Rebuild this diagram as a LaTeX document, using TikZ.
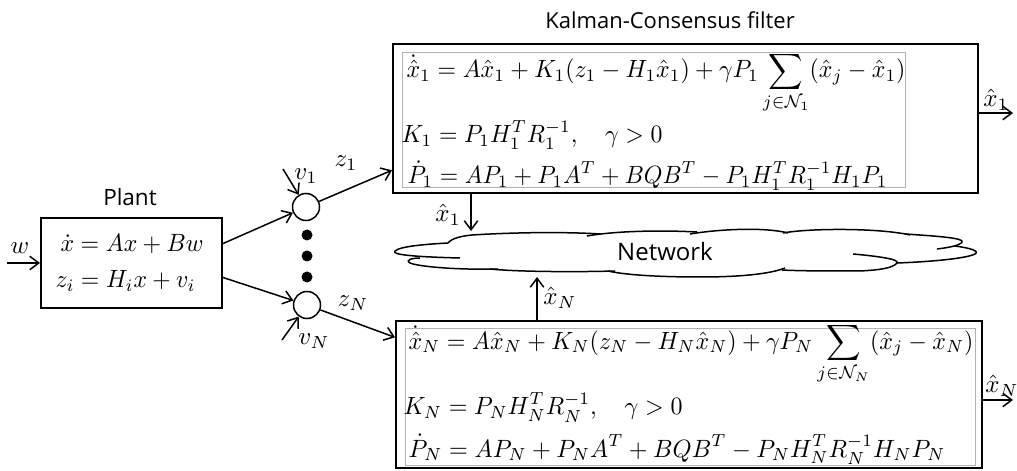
\documentclass[tikz,border=0pt]{standalone}
\usepackage{graphicx}
\usepackage{fontspec}
\newfontfamily\labfont{Open Sans}
\usetikzlibrary{fit,arrows.meta}
\newcommand\eqw[2]{\resizebox{#1}{\height}{$\displaystyle #2$}}
\begin{document}
\begin{tikzpicture}[x=0.4pt,y=-0.4pt,
  >={Straight Barb[length=3.6pt,width=5.4pt]},
  box/.style={draw,line width=0.8pt,inner sep=0pt},
  inbox/.style={draw=black!30,line width=0.4pt,inner sep=0pt},
  conn/.style={->,line width=0.6pt},
  lab/.style={font=\labfont\fontsize{9}{11}\selectfont,inner sep=0pt},
  eq/.style={inner sep=0pt,anchor=base west},
  mlab/.style={inner sep=0pt},
  sumc/.style={circle,draw,line width=0.6pt,minimum size=10.8pt,inner sep=0pt},
  dotn/.style={circle,fill=black,minimum size=4.4pt,inner sep=0pt},
  cloudline/.style={line width=0.6pt}]
\useasboundingbox (0,0) rectangle (1017,471);

% plant
\node[box,fit={(41,218)(222,308)}] (plant) {};
\node[lab] (plantlbl) at (130,197) {Plant};
\node[eq] (pe1) at (60,252) {\eqw{57.2pt}{\dot x = Ax + Bw}};
\node[eq] (pe2) at (55,288) {\eqw{56pt}{z_i = H_i x + v_i}};
\coordinate (win) at (7,263);
\draw[conn] (win) -- (plant.west);
\node[mlab] (wl) at (20,248) {$w$};

% sensors
\node[sumc] (c1) at (306,207) {};
\node[sumc] (cN) at (307,305) {};
\node[dotn] (d1) at (307,235) {};
\node[dotn] (d2) at (307,256) {};
\node[dotn] (d3) at (307,277) {};
\draw[conn] (plant.12) -- (c1);
\draw[conn] (plant.-9) -- (cN);
\coordinate (v1s) at (283,169);
\coordinate (vNs) at (282,340);
\draw[conn] (v1s) -- (c1);
\draw[conn] (vNs) -- (cN);
\node[mlab] (v1l) at (306,176) {$v_1$};
\node[mlab] (vNl) at (314,341) {$v_N$};

% filter boxes
\node[lab,font=\labfont\fontsize{8.8}{11}\selectfont] (kcf) at (670,20) {Kalman-Consensus filter};
\node[box,fit={(393,44)(978,193)}] (top) {};
\node[inbox,fit={(402,53)(905,188)}] (tin) {};
\node[box,fit={(396,321)(982,468)}] (bot) {};
\node[inbox,fit={(405,329)(975,465)}] (bin) {};

\node[eq] (t1) at (406,78) {\eqw{199.6pt}{\dot{\hat x}_1 = A\hat x_1 + K_1(z_1 - H_1\hat x_1) + \gamma P_1 \sum_{j\in\mathcal N_1}(\hat x_j - \hat x_1)}};
\node[eq] (t2) at (401,143) {\eqw{104.4pt}{K_1 = P_1H_1^TR_1^{-1}, \quad \gamma > 0}};
\node[eq] (t3) at (407,184) {\eqw{192pt}{\dot P_1 = AP_1 + P_1A^T + BQB^T - P_1H_1^TR_1^{-1}H_1P_1}};

\node[eq] (b1) at (408,349) {\eqw{226pt}{\dot{\hat x}_N = A\hat x_N + K_N(z_N - H_N\hat x_N) + \gamma P_N \sum_{j\in\mathcal N_N}(\hat x_j - \hat x_N)}};
\node[eq] (b2) at (403,415) {\eqw{111.6pt}{K_N = P_NH_N^TR_N^{-1}, \quad \gamma > 0}};
\node[eq] (b3) at (408,457) {\eqw{214.8pt}{\dot P_N = AP_N + P_NA^T + BQB^T - P_NH_N^TR_N^{-1}H_NP_N}};

\draw[conn] (c1) -- (top.190.4);
\draw[conn] (cN) -- (bot.169);
\node[mlab] (z1l) at (346,163) {$z_1$};
\node[mlab] (zNl) at (353,303) {$z_N$};

% outputs
\coordinate (o1) at (1013,113);
\draw[conn] (top.east |- o1) -- (o1);
\node[mlab] (o1l) at (996,100) {$\hat x_1$};
\coordinate (oN) at (1013,400);
\draw[conn] (bot.east |- oN) -- (oN);
\node[mlab] (oNl) at (1002,386) {$\hat x_N$};

% network cloud
\node[lab,font=\labfont\fontsize{9.6}{11}\selectfont] (net) at (665,252) {Network};
\draw[cloudline] (460,258) .. controls (420,257) and (390,255) .. (395,251) .. controls (400,246) and (430,244) .. (448,243) .. controls (452,238) and (462,236) .. (472,235) .. controls (520,232) and (570,232) .. (600,234);
\draw[cloudline] (587,236) .. controls (615,231) and (660,230) .. (697,232);
\draw[cloudline] (690,234) .. controls (720,229) and (765,227) .. (788,233);
\draw[cloudline] (783,233) .. controls (810,228) and (880,228) .. (910,235);
\draw[cloudline] (905,234) .. controls (935,236) and (965,238) .. (962,242) .. controls (960,246) and (945,248) .. (937,249);
\draw[cloudline] (955,246) .. controls (970,248) and (980,251) .. (975,254) .. controls (965,259) and (925,262) .. (897,263);
\draw[cloudline] (853,254) .. controls (875,256) and (900,259) .. (897,263) .. controls (893,268) and (880,270) .. (860,271) .. controls (830,271) and (800,271) .. (782,270);
\draw[cloudline] (785,268) .. controls (770,274) and (740,277) .. (700,277) .. controls (660,277) and (625,275) .. (608,271);
\draw[cloudline] (615,271) .. controls (580,272) and (520,272) .. (490,269);
\draw[cloudline] (498,269) .. controls (460,270) and (420,267) .. (410,263) .. controls (405,260) and (412,258) .. (420,258);

\coordinate (n1) at (471,231);
\draw[conn] (top.south -| n1) -- (n1);
\node[mlab] (n1l) at (448,215) {$\hat x_1$};
\coordinate (nN) at (537,277);
\draw[conn] (bot.north -| nN) -- (nN);
\node[mlab] (nNl) at (560,298) {$\hat x_N$};
\end{tikzpicture}
\end{document}
